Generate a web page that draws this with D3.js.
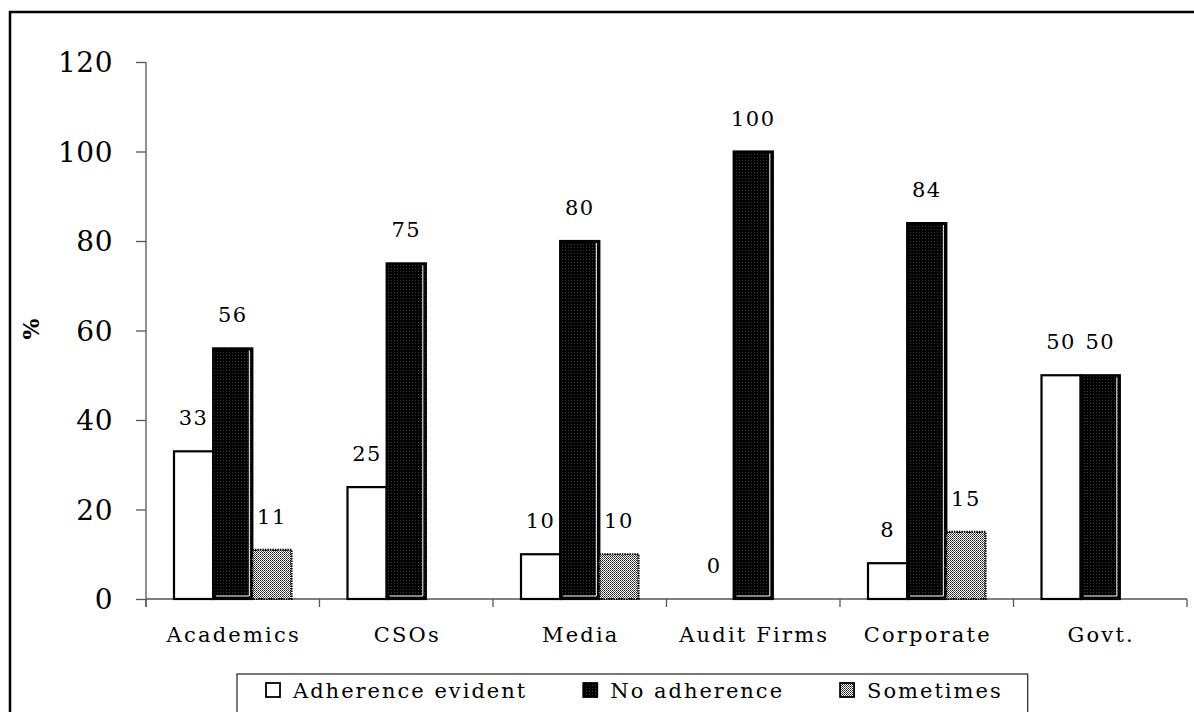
<!DOCTYPE html>
<html><head><meta charset="utf-8">
<script src="https://cdn.jsdelivr.net/npm/d3@7/dist/d3.min.js"></script>
<style>
html,body{margin:0;padding:0;background:#fff;}
svg{display:block;}
</style></head>
<body>
<svg id="chart" width="1194" height="712"></svg>
<script>
const categories = ["Academics","CSOs","Media","Audit Firms","Corporate","Govt."];
const seriesNames = ["Adherence evident","No adherence","Sometimes"];
const adherenceEvident = [33,25,10,0,8,50];
const noAdherence = [56,75,80,100,84,50];
const sometimes = [11,null,10,null,15,null];
const yTicks = [0,20,40,60,80,100,120];
const yLabel = "%";

const seriesValues = [adherenceEvident, noAdherence, sometimes];
const FONT = "'DejaVu Serif', 'Liberation Serif', serif";

const svg = d3.select("#chart").attr("font-family", FONT);
const W = 1194, H = 712;
const m = {left:146, right:1187, top:62, bottom:599};

// patterns
const defs = svg.append("defs");
const pBlack = defs.append("pattern").attr("id","pBlack").attr("width",3).attr("height",3).attr("patternUnits","userSpaceOnUse");
pBlack.append("rect").attr("width",3).attr("height",3).attr("fill","#000");
pBlack.append("rect").attr("x",1).attr("y",1).attr("width",1).attr("height",1).attr("fill","#3a3a3a");
const pGrey = defs.append("pattern").attr("id","pGrey").attr("width",2).attr("height",2).attr("patternUnits","userSpaceOnUse");
pGrey.append("rect").attr("width",2).attr("height",2).attr("fill","#fff");
pGrey.append("rect").attr("x",0).attr("y",0).attr("width",1).attr("height",1).attr("fill","#222");
pGrey.append("rect").attr("x",1).attr("y",1).attr("width",1).attr("height",1).attr("fill","#555");

// outer border
svg.append("rect").attr("x",10).attr("y",12).attr("width",W+20).attr("height",H+20)
  .attr("fill","none").attr("stroke","#000").attr("stroke-width",2.5);

const x0 = d3.scaleBand().domain(categories).range([m.left, m.right]).paddingInner(0).paddingOuter(0);
const groupPad = 28;
const x1 = d3.scaleBand().domain(seriesNames).range([groupPad, x0.bandwidth()-groupPad]);
const y = d3.scaleLinear().domain([0,120]).range([m.bottom, m.top]);

function styleText(sel, size, ls){
  sel.attr("font-family", FONT).style("font-family", FONT).style("font-size", size+"px");
  if (ls) sel.style("letter-spacing", ls+"px");
  return sel;
}

// y axis
const yAxis = svg.append("g").attr("transform",`translate(${m.left},0)`)
  .call(d3.axisLeft(y).tickValues(yTicks).tickSize(10).tickPadding(23).tickSizeOuter(0));
yAxis.attr("font-family", FONT);
yAxis.select(".domain").remove();
yAxis.selectAll(".tick line").attr("stroke","#555").attr("stroke-width",1.3);
styleText(yAxis.selectAll(".tick text"), 28, 0.5).attr("dy","0.34em").attr("fill","#000");
svg.append("line").attr("x1",m.left).attr("x2",m.left).attr("y1",y(120)).attr("y2",m.bottom+8)
  .attr("stroke","#555").attr("stroke-width",1.3);

// x axis
svg.append("line").attr("x1",m.left).attr("x2",m.right).attr("y1",m.bottom).attr("y2",m.bottom)
  .attr("stroke","#555").attr("stroke-width",1.3);
const bounds = categories.map(c=>x0(c)+x0.bandwidth()).concat([x0(categories[0])]);
svg.selectAll(".xtick").data(bounds).join("line").attr("class","xtick")
  .attr("x1",d=>d).attr("x2",d=>d).attr("y1",m.bottom).attr("y2",m.bottom+8)
  .attr("stroke","#555").attr("stroke-width",1.3);
styleText(svg.selectAll(".xlab").data(categories).join("text").attr("class","xlab")
  .attr("x",d=>x0(d)+x0.bandwidth()/2+1).attr("y",642)
  .attr("text-anchor","middle").attr("fill","#000")
  .text(d=>d), 21, 2.2);

// y label
styleText(svg.append("text").attr("transform","translate(39,329) rotate(-90)")
  .attr("text-anchor","middle").style("font-weight","bold").text(yLabel), 22);

// bars
const fills = ["#fff","url(#pBlack)","url(#pGrey)"];
const barData = [];
seriesNames.forEach((s,si)=>{
  categories.forEach((c,ci)=>{
    const v = seriesValues[si][ci];
    if (v!==null) barData.push({s,si,c,v});
  });
});
const bars = svg.append("g");
barData.forEach(d=>{
  const bx = x0(d.c)+x1(d.s), bw = x1.bandwidth();
  const by = y(d.v), bh = m.bottom - y(d.v);
  if (d.v>0) {
    const r = bars.append("rect").attr("x",bx).attr("y",by).attr("width",bw).attr("height",bh)
      .attr("fill",fills[d.si]).attr("stroke","#000").attr("stroke-width",2.2);
    if (d.si===2) r.attr("stroke-dasharray","1.5,1");
    if (d.si===1) {
      bars.append("path")
        .attr("d",`M${bx+bw-3},${by+2}V${by+bh-3}H${bx+3}`)
        .attr("fill","none").attr("stroke","#fff").attr("stroke-width",1);
    }
  }
  styleText(svg.append("text").attr("x",bx+bw/2).attr("y",by-26)
    .attr("text-anchor","middle").attr("fill","#000")
    .text(d.v), 21, 1.5);
});

// legend
const lg = svg.append("g");
const lx0 = 237, ly = 674;
let cx = 266;
const ends = [];
seriesNames.forEach((s,i)=>{
  lg.append("rect").attr("x",cx).attr("y",683).attr("width",14).attr("height",14)
    .attr("fill",fills[i]).attr("stroke","#000").attr("stroke-width",1.8);
  const t = styleText(lg.append("text").attr("x",cx+27).attr("y",698).attr("fill","#000").text(s), 21, 2);
  const end = cx+27+t.node().getComputedTextLength();
  ends.push(end);
  cx = end + 56;
});
lg.insert("rect",":first-child").attr("x",lx0).attr("y",ly).attr("width",ends[2]+25-lx0).attr("height",60)
  .attr("fill","#fff").attr("stroke","#222").attr("stroke-width",1.2);
</script>
</body></html>
